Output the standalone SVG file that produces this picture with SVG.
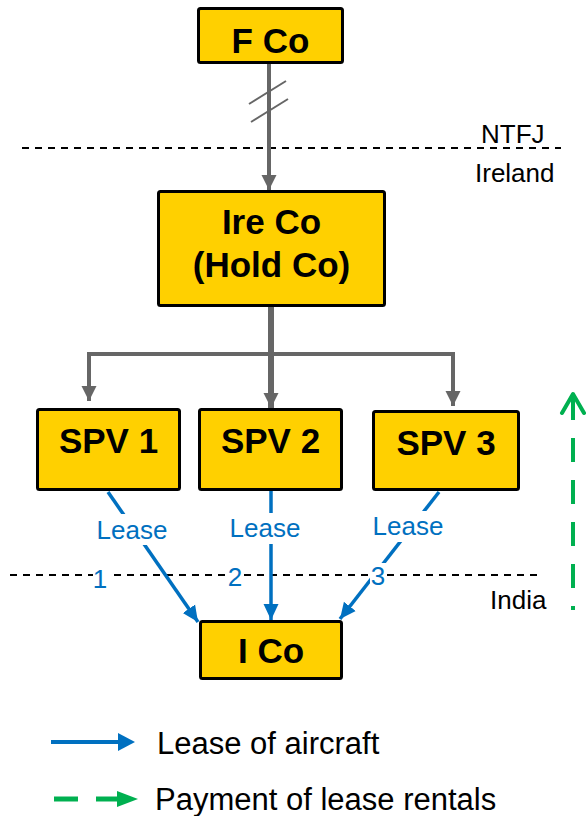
<svg xmlns="http://www.w3.org/2000/svg" width="586" height="816" viewBox="0 0 586 816">
  <style>
    .box { fill: #FFD000; stroke: #000; stroke-width: 3; }
    .lbl { font-family: "Liberation Sans", Arial, sans-serif; font-weight: bold; font-size: 35px; fill: #000; text-anchor: middle; }
    .zone { font-family: "Liberation Sans", Arial, sans-serif; font-size: 26px; fill: #000; }
    .blue { font-family: "Liberation Sans", Arial, sans-serif; font-size: 26px; fill: #0070C0; text-anchor: middle; }
    .legend { font-family: "Liberation Sans", Arial, sans-serif; font-size: 31px; fill: #000; }
    .border { stroke: #000; stroke-width: 2; stroke-dasharray: 7 6; fill: none; }
    .own { stroke: #666; fill: none; }
    .lease { stroke: #0070C0; stroke-width: 3.5; fill: none; marker-end: url(#blueHead); }
    .pay { stroke: #00B050; fill: none; }
  </style>
  <defs>
    <marker id="grayHead" markerUnits="userSpaceOnUse" markerWidth="16" markerHeight="16" refX="15" refY="8" orient="auto">
      <path d="M0,0.5 L15,8 L0,15.5 z" fill="#666"/>
    </marker>
    <marker id="blueHead" markerUnits="userSpaceOnUse" markerWidth="18" markerHeight="16" refX="16" refY="8" orient="auto">
      <path d="M0,0.5 L16,8 L0,15.5 z" fill="#0070C0"/>
    </marker>
  </defs>

  <!-- jurisdiction borders -->
  <g id="borders">
    <line class="border" x1="22" y1="148" x2="561" y2="148"/>
    <line class="border" x1="10" y1="575" x2="538" y2="575"/>
    <text class="zone" x="481" y="143">NTFJ</text>
    <text class="zone" x="475" y="182">Ireland</text>
    <text class="zone" x="490" y="609">India</text>
  </g>

  <!-- connectors -->
  <g id="connectors">
    <!-- ownership: F Co to Ire Co, with break marks -->
    <line class="own" x1="269" y1="64" x2="269" y2="190" stroke-width="4" marker-end="url(#grayHead)"/>
    <line class="own" x1="249" y1="104" x2="286" y2="81" stroke-width="2"/>
    <line class="own" x1="251" y1="122" x2="288" y2="99" stroke-width="2"/>
    <!-- ownership: Ire Co to SPVs -->
    <line class="own" x1="271" y1="307" x2="271" y2="408" stroke-width="6" marker-end="url(#grayHead)"/>
    <polyline class="own" points="89,401 89,354 453,354 453,406" stroke-width="4" marker-end="url(#grayHead)"/>
    <line class="own" x1="89" y1="390" x2="89" y2="401" stroke-width="4" marker-end="url(#grayHead)"/>

    <!-- leases: SPVs to I Co -->
    <line class="lease" x1="108" y1="492" x2="198" y2="622"/>
    <line class="lease" x1="271" y1="491" x2="271" y2="620"/>
    <line class="lease" x1="439" y1="492" x2="340" y2="619"/>

    <!-- payment of rentals: I Co upward -->
    <line class="pay" x1="573" y1="438" x2="573" y2="610" stroke-width="4" stroke-dasharray="24 18"/>
    <line class="pay" x1="573" y1="395" x2="573" y2="420" stroke-width="4"/>
    <polyline class="pay" points="562,413 573,394 584,413" stroke-width="4" stroke-linecap="round" stroke-linejoin="round"/>
  </g>

  <!-- lease labels -->
  <g id="lease-labels">
    <rect x="94" y="514" width="76" height="31" fill="#fff"/>
    <text class="blue" x="132" y="539">Lease</text>
    <rect x="227" y="513" width="76" height="31" fill="#fff"/>
    <text class="blue" x="265" y="537">Lease</text>
    <rect x="370" y="511" width="76" height="31" fill="#fff"/>
    <text class="blue" x="408" y="535">Lease</text>
    <rect x="93" y="567" width="15" height="23" fill="#fff"/>
    <text class="blue" x="100" y="588">1</text>
    <rect x="227" y="565" width="16" height="23" fill="#fff"/>
    <text class="blue" x="235" y="586">2</text>
    <rect x="370" y="563" width="16" height="24" fill="#fff"/>
    <text class="blue" x="378" y="585">3</text>
  </g>

  <g id="fco">
    <rect class="box" x="198.5" y="8.5" width="144" height="54" rx="2"/>
    <text class="lbl" x="270.5" y="53">F Co</text>
  </g>
  <g id="ireco">
    <rect class="box" x="158.5" y="191.5" width="226" height="114" rx="2"/>
    <text class="lbl" x="271.5" y="234">Ire Co</text>
    <text class="lbl" x="271.5" y="277">(Hold Co)</text>
  </g>
  <g id="spv1">
    <rect class="box" x="37.5" y="409.5" width="142" height="80" rx="2"/>
    <text class="lbl" x="108.5" y="453" font-size="34">SPV 1</text>
  </g>
  <g id="spv2">
    <rect class="box" x="199.5" y="409.5" width="142" height="80" rx="2"/>
    <text class="lbl" x="270.5" y="453" font-size="34">SPV 2</text>
  </g>
  <g id="spv3">
    <rect class="box" x="373.5" y="411.5" width="145" height="78" rx="2"/>
    <text class="lbl" x="446" y="455" font-size="34">SPV 3</text>
  </g>
  <g id="ico">
    <rect class="box" x="200.5" y="621.5" width="141" height="57" rx="2"/>
    <text class="lbl" x="271" y="663" font-size="34">I Co</text>
  </g>

  <!-- legend -->
  <g id="legend">
    <line x1="51" y1="742" x2="120" y2="742" stroke="#0070C0" stroke-width="4"/>
    <path d="M118,733 L135,742 L118,751 z" fill="#0070C0"/>
    <text class="legend" x="157" y="754">Lease of aircraft</text>
    <line x1="54" y1="799" x2="78" y2="799" stroke="#00B050" stroke-width="5"/>
    <line x1="96" y1="799" x2="119" y2="799" stroke="#00B050" stroke-width="5"/>
    <path d="M117,791 L138,799 L117,807 z" fill="#00B050"/>
    <text class="legend" x="155" y="810">Payment of lease rentals</text>
  </g>
</svg>
